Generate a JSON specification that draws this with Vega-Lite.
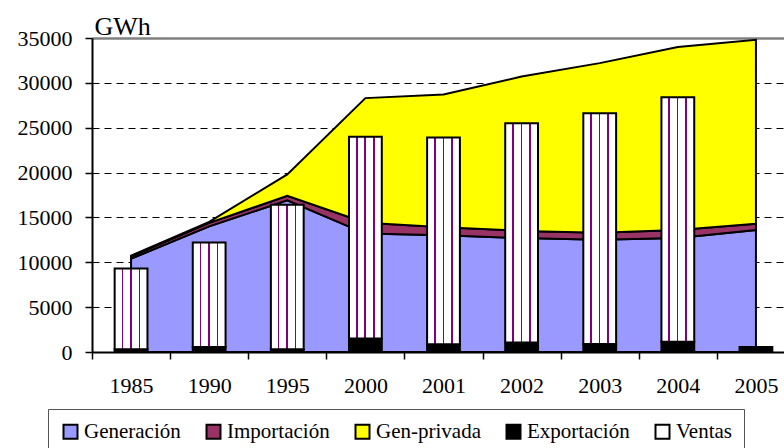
{
  "$schema": "https://vega.github.io/schema/vega-lite/v6.json",
  "width": 692,
  "height": 314,
  "autosize": {"type": "none"},
  "padding": {"left": 92, "top": 38, "right": 0, "bottom": 96},
  "config": {
    "font": "Liberation Serif",
    "view": {"stroke": null},
    "axis": {"labelFont": "Liberation Serif", "titleFont": "Liberation Serif", "labelColor": "#000", "titleColor": "#000"}
  },
  "datasets": {
    "areas": [
      {"year": "1985", "serie": "Generación", "value": 10400},
      {"year": "1985", "serie": "Importación", "value": 250},
      {"year": "1985", "serie": "Gen-privada", "value": 100},
      {"year": "1990", "serie": "Generación", "value": 14000},
      {"year": "1990", "serie": "Importación", "value": 400},
      {"year": "1990", "serie": "Gen-privada", "value": 100},
      {"year": "1995", "serie": "Generación", "value": 16900},
      {"year": "1995", "serie": "Importación", "value": 500},
      {"year": "1995", "serie": "Gen-privada", "value": 2400},
      {"year": "2000", "serie": "Generación", "value": 13200},
      {"year": "2000", "serie": "Importación", "value": 1200},
      {"year": "2000", "serie": "Gen-privada", "value": 13900},
      {"year": "2001", "serie": "Generación", "value": 13000},
      {"year": "2001", "serie": "Importación", "value": 900},
      {"year": "2001", "serie": "Gen-privada", "value": 14800},
      {"year": "2002", "serie": "Generación", "value": 12700},
      {"year": "2002", "serie": "Importación", "value": 800},
      {"year": "2002", "serie": "Gen-privada", "value": 17200},
      {"year": "2003", "serie": "Generación", "value": 12500},
      {"year": "2003", "serie": "Importación", "value": 800},
      {"year": "2003", "serie": "Gen-privada", "value": 18900},
      {"year": "2004", "serie": "Generación", "value": 12700},
      {"year": "2004", "serie": "Importación", "value": 900},
      {"year": "2004", "serie": "Gen-privada", "value": 20400},
      {"year": "2005", "serie": "Generación", "value": 13600},
      {"year": "2005", "serie": "Importación", "value": 700},
      {"year": "2005", "serie": "Gen-privada", "value": 20500}
    ],
    "bars": [
      {"year": "1985", "serie": "Exportación", "value": 300},
      {"year": "1985", "serie": "Ventas", "value": 9000},
      {"year": "1990", "serie": "Exportación", "value": 550},
      {"year": "1990", "serie": "Ventas", "value": 11650},
      {"year": "1995", "serie": "Exportación", "value": 300},
      {"year": "1995", "serie": "Ventas", "value": 16100},
      {"year": "2000", "serie": "Exportación", "value": 1500},
      {"year": "2000", "serie": "Ventas", "value": 22500},
      {"year": "2001", "serie": "Exportación", "value": 850},
      {"year": "2001", "serie": "Ventas", "value": 23050},
      {"year": "2002", "serie": "Exportación", "value": 1050},
      {"year": "2002", "serie": "Ventas", "value": 24450},
      {"year": "2003", "serie": "Exportación", "value": 900},
      {"year": "2003", "serie": "Ventas", "value": 25700},
      {"year": "2004", "serie": "Exportación", "value": 1150},
      {"year": "2004", "serie": "Ventas", "value": 27250},
      {"year": "2005", "serie": "Exportación", "value": 550}
    ]
  },
  "layer": [
    {
      "data": {"name": "areas"},
      "transform": [{"calculate": "indexof(['Generación','Importación','Gen-privada'], datum.serie)", "as": "ord"}],
      "mark": {"type": "area", "stroke": "#000", "strokeWidth": 2, "opacity": 1, "strokeJoin": "miter"},
      "encoding": {
        "x": {
          "field": "year", "type": "ordinal", "bandPosition": 0.5,
          "scale": {"type": "band", "range": [0, 703], "paddingInner": 0, "paddingOuter": 0},
          "axis": {
            "title": null, "tickBand": "extent", "tickSize": 7, "tickColor": "#000", "tickWidth": 1.5,
            "domainColor": "#000", "domainWidth": 2, "labelFont": "Liberation Serif", "labelFontSize": 22, "labelPadding": 16,
            "labelAngle": 0, "grid": false
          }
        },
        "y": {
          "field": "value", "type": "quantitative", "stack": "zero",
          "scale": {"domain": [0, 35000], "nice": false},
          "axis": {
            "values": [0, 5000, 10000, 15000, 20000, 25000, 30000, 35000],
            "format": "d",
            "title": "GWh", "titleAngle": 0, "titleAlign": "left", "titleBaseline": "alphabetic",
            "titleX": 2, "titleY": -4, "titleFontSize": 26, "titleFontWeight": "normal",
            "labelFont": "Liberation Serif", "labelFontSize": 22, "labelPadding": 13, "tickSize": 7, "tickColor": "#000", "tickWidth": 1.5,
            "domainColor": "#000", "domainWidth": 2,
            "grid": true,
            "gridColor": {"condition": {"test": "datum.value === 35000", "value": "#808080"}, "value": "#000"},
            "gridWidth": {"condition": {"test": "datum.value === 35000", "value": 2.5}, "value": 1},
            "gridDash": {"condition": {"test": "datum.value === 35000", "value": []}, "value": [7, 5]}
          }
        },
        "color": {
          "field": "serie", "type": "nominal",
          "scale": {
            "domain": ["Generación", "Importación", "Gen-privada", "Exportación", "Ventas"],
            "range": ["#9999FF", "#993366", "#FFFF00", "#000000", "#FFFFFF"]
          },
          "legend": {
            "title": null, "orient": "none", "legendX": -44, "legendY": 371,
            "direction": "horizontal", "symbolType": "square", "symbolSize": 196,
            "symbolStrokeColor": "#000", "symbolStrokeWidth": 2, "symbolOpacity": 1,
            "labelFont": "Liberation Serif", "labelFontSize": 21, "labelColor": "#000", "labelOffset": 3,
            "columnPadding": 21, "padding": 12, "strokeColor": "#555", "fillColor": "#fff",
            "labelLimit": 300,
            "encode": {
              "symbols": {
                "update": {
                  "fill": [
                    {"test": "datum.value === 'Ventas'", "value": {"gradient": "linear", "x1": 0, "y1": 0, "x2": 1, "y2": 0, "stops": [
                      {"offset": 0, "color": "#FFFFFF"}, {"offset": 0.4, "color": "#FFFFFF"},
                      {"offset": 0.4, "color": "#800080"}, {"offset": 0.6, "color": "#800080"},
                      {"offset": 0.6, "color": "#FFFFFF"}, {"offset": 1, "color": "#FFFFFF"}
                    ]}},
                    {"scale": "color", "field": "value"}
                  ],
                  "stroke": {"value": "#000"}
                }
              }
            }
          }
        },
        "order": {"field": "ord", "type": "quantitative"}
      }
    },
    {
      "data": {"name": "bars"},
      "transform": [{"calculate": "datum.serie === 'Exportación' ? 0 : 1", "as": "ord"}],
      "mark": {"type": "bar", "width": {"band": 0.42}, "stroke": "#000", "strokeWidth": 2, "opacity": 1},
      "encoding": {
        "x": {"field": "year", "type": "ordinal"},
        "y": {"field": "value", "type": "quantitative", "stack": "zero"},
        "color": {
          "condition": {"test": "datum.serie === 'Ventas'", "value": {"gradient": "linear", "x1": 0, "y1": 0, "x2": 1, "y2": 0, "stops": [
            {"offset": 0, "color": "#FFFFFF"}, {"offset": 0.21, "color": "#FFFFFF"},
            {"offset": 0.21, "color": "#800080"}, {"offset": 0.26, "color": "#800080"},
            {"offset": 0.26, "color": "#FFFFFF"}, {"offset": 0.47, "color": "#FFFFFF"},
            {"offset": 0.47, "color": "#800080"}, {"offset": 0.52, "color": "#800080"},
            {"offset": 0.52, "color": "#FFFFFF"}, {"offset": 0.73, "color": "#FFFFFF"},
            {"offset": 0.73, "color": "#800080"}, {"offset": 0.78, "color": "#800080"},
            {"offset": 0.78, "color": "#FFFFFF"}, {"offset": 1, "color": "#FFFFFF"}
          ]}},
          "field": "serie", "type": "nominal"
        },
        "order": {"field": "ord", "type": "quantitative"}
      }
    }
  ]
}
